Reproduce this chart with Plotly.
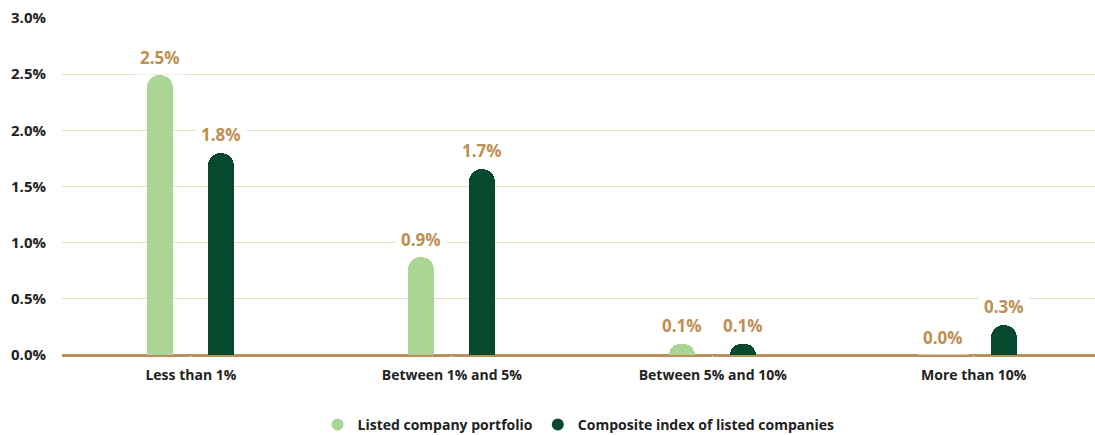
import plotly.graph_objects as go

categories = ["Less than 1%", "Between 1% and 5%", "Between 5% and 10%", "More than 10%"]
portfolio = [2.49, 0.87, 0.1, 0.0]
composite = [1.8, 1.66, 0.1, 0.27]
series_names = ["Listed company portfolio", "Composite index of listed companies"]
y_ticks = [0, 0.5, 1.0, 1.5, 2.0, 2.5, 3.0]

LIGHT = "#ABD595"
DARK = "#07492E"
GOLD = "#BE8F52"
FONT = "Open Sans"

fig = go.Figure()
xs = list(range(len(categories)))
for vals, color, off in [(portfolio, LIGHT, -0.167), (composite, DARK, 0.067)]:
    fig.add_trace(go.Bar(
        x=xs, y=vals, width=0.1, offset=off,
        marker=dict(color=color, cornerradius=13, line=dict(width=0)),
        showlegend=False, hoverinfo="skip"))
    for xi, v in zip(xs, vals):
        fig.add_annotation(x=xi + off + 0.05, y=v, xref="x", yref="y",
                           text=f"{v:.1f}%", showarrow=False, yanchor="middle",
                           yshift=18, bgcolor="white", borderpad=5,
                           font=dict(family=FONT, size=17, color=GOLD, weight="bold"))

for name, color in zip(series_names, [LIGHT, DARK]):
    fig.add_trace(go.Scatter(x=[None], y=[None], mode="markers", name=name,
                             marker=dict(symbol="circle", size=16, color=color)))

fig.update_layout(
    width=1095, height=435,
    margin=dict(l=62, r=0, t=18, b=80, autoexpand=False),
    plot_bgcolor="white", paper_bgcolor="white",
    bargap=0, barmode="overlay",
    showlegend=True,
    legend=dict(orientation="h", x=0.5, xanchor="center", y=-0.16, yanchor="top",
                font=dict(family=FONT, size=14, color="#222222", weight="bold"),
                itemsizing="constant", itemwidth=30, tracegroupgap=0),
    xaxis=dict(range=[-0.494, 3.465], tickvals=xs, ticktext=categories,
               showgrid=False, zeroline=False, showline=False,
               ticks="outside", ticklen=7, tickcolor="white",
               tickfont=dict(family=FONT, size=14, color="#222222", weight="bold")),
    yaxis=dict(range=[0, 3.0], tickvals=y_ticks,
               ticktext=[f"{t:.1f}%" for t in y_ticks],
               showgrid=True, gridcolor="#EBDCC4", gridwidth=1,
               zeroline=True, zerolinecolor="#B8915A", zerolinewidth=3,
               showline=False, ticks="outside", ticklen=12, tickcolor="white",
               tickfont=dict(family=FONT, size=15, color="#222222", weight="bold")),
)

fig.write_html("out.html")
